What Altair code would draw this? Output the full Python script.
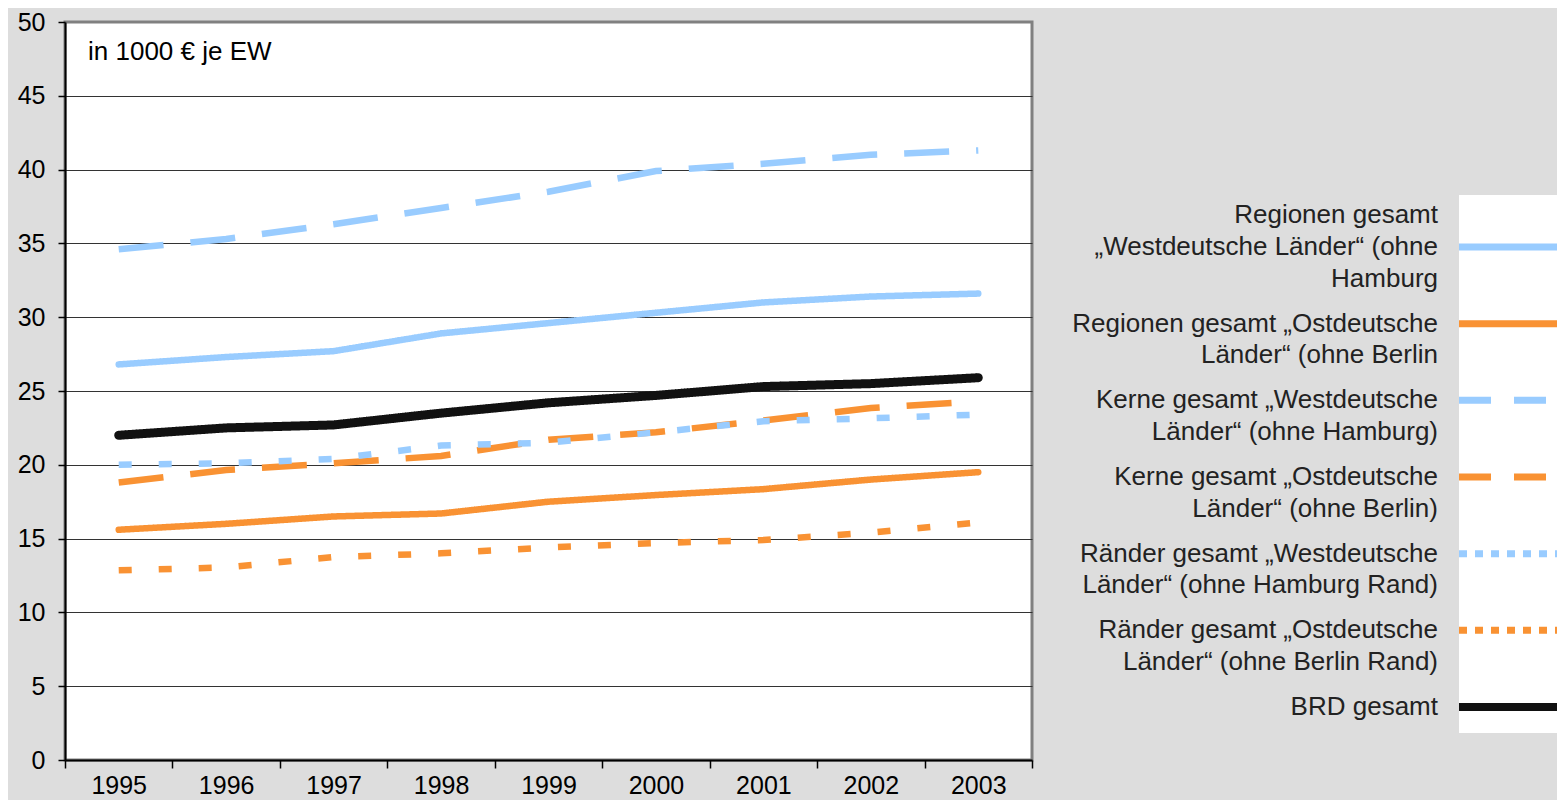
import altair as alt
import pandas as pd

FONT = "Liberation Sans"

years = ["1995", "1996", "1997", "1998", "1999", "2000", "2001", "2002", "2003"]

series_keys = ["reg_west", "reg_ost", "kern_west", "kern_ost", "rand_west", "rand_ost", "brd"]
series_labels = [
    "Regionen gesamt\n\u201eWestdeutsche L\u00e4nder\u201c (ohne\nHamburg",
    "Regionen gesamt \u201eOstdeutsche\nL\u00e4nder\u201c (ohne Berlin",
    "Kerne gesamt \u201eWestdeutsche\nL\u00e4nder\u201c (ohne Hamburg)",
    "Kerne gesamt \u201eOstdeutsche\nL\u00e4nder\u201c (ohne Berlin)",
    "R\u00e4nder gesamt \u201eWestdeutsche\nL\u00e4nder\u201c (ohne Hamburg Rand)",
    "R\u00e4nder gesamt \u201eOstdeutsche\nL\u00e4nder\u201c (ohne Berlin Rand)",
    "BRD gesamt",
]

reg_west = [26.8, 27.3, 27.7, 28.9, 29.6, 30.3, 31.0, 31.4, 31.6]
reg_ost = [15.6, 16.0, 16.5, 16.7, 17.5, 17.95, 18.35, 19.0, 19.5]
kern_west = [34.6, 35.3, 36.3, 37.4, 38.5, 39.9, 40.4, 41.0, 41.3]
kern_ost = [18.8, 19.65, 20.1, 20.6, 21.7, 22.2, 23.0, 23.85, 24.3]
rand_west = [20.0, 20.1, 20.4, 21.3, 21.5, 22.2, 22.95, 23.15, 23.4]
rand_ost = [12.85, 13.05, 13.75, 14.0, 14.4, 14.7, 14.9, 15.4, 16.1]
brd = [22.0, 22.5, 22.7, 23.5, 24.2, 24.7, 25.3, 25.5, 25.9]

series_values = [reg_west, reg_ost, kern_west, kern_ost, rand_west, rand_ost, brd]

BLUE = "#99CCFF"
ORANGE = "#F99233"
BLACK = "#111111"
colors = [BLUE, ORANGE, BLUE, ORANGE, BLUE, ORANGE, BLACK]
chart_dashes = [[1, 0], [1, 0], [45, 27], [45, 27], [13, 27], [13, 27], [1, 0]]
legend_dashes = [[1, 0], [1, 0], [32, 23], [32, 23], [8, 8], [8, 8], [1, 0]]

rows = []
for key, vals in zip(series_keys, series_values):
    for yr, v in zip(years, vals):
        rows.append({"series": key, "year": yr, "value": v})
df = pd.DataFrame(rows)

df_leg = pd.DataFrame({"series": series_keys, "label": series_labels})

color_scale = alt.Scale(domain=series_keys, range=colors)

x_enc = alt.X(
    "year:O",
    bandPosition=0.5,
    scale=alt.Scale(type="band", domain=years, paddingInner=0, paddingOuter=0),
    axis=alt.Axis(
        title=None, labelAngle=0, tickBand="extent", labelFont=FONT, labelFontSize=25,
        labelColor="black", labelPadding=5, tickSize=8, tickColor="black", tickWidth=1.5,
        domainColor="black", domainWidth=2, grid=False,
    ),
)
y_enc = alt.Y(
    "value:Q",
    scale=alt.Scale(domain=[0, 50], nice=False),
    axis=alt.Axis(
        title=None, values=list(range(0, 51, 5)), labelFont=FONT, labelFontSize=25,
        labelColor="black", labelPadding=13, tickSize=7, tickColor="black", tickWidth=1.5,
        domainColor="black", domainWidth=2, grid=True, gridColor="#333333", gridWidth=1,
        gridOpacity={"condition": {"test": "datum.value == 50 || datum.value == 0", "value": 0}, "value": 1},
    ),
)
dash_enc = alt.StrokeDash("series:N", scale=alt.Scale(domain=series_keys, range=chart_dashes), legend=None)
color_enc = alt.Color("series:N", scale=color_scale, legend=None)

base = alt.Chart(df)
solid_colored = base.transform_filter(
    alt.FieldOneOfPredicate(field="series", oneOf=["reg_west", "reg_ost"])
).mark_line(strokeWidth=6.5, strokeCap="round", strokeJoin="round").encode(
    x=x_enc, y=y_enc, color=color_enc, strokeDash=dash_enc
)
dashed = base.transform_filter(
    alt.FieldOneOfPredicate(field="series", oneOf=["kern_west", "kern_ost", "rand_west", "rand_ost"])
).mark_line(strokeWidth=6.5, strokeCap="butt").encode(
    x=x_enc, y=y_enc, color=color_enc, strokeDash=dash_enc
)
black_line = base.transform_filter(
    alt.FieldEqualPredicate(field="series", equal="brd")
).mark_line(strokeWidth=9, strokeCap="round", strokeJoin="round").encode(
    x=x_enc, y=y_enc, color=color_enc, strokeDash=dash_enc
)

annot = alt.Chart(pd.DataFrame({"t": ["in 1000 \u20ac je EW"]})).mark_text(
    align="left", baseline="middle", font=FONT, fontSize=26, color="black"
).encode(x=alt.value(23), y=alt.value(30), text="t:N")

main = alt.layer(solid_colored, dashed, black_line, annot)

# legend
leg_y = alt.Y("series:N", scale=alt.Scale(type="point", domain=series_keys, range=[225, 685], padding=0), axis=None)
leg_dash = alt.StrokeDash("series:N", scale=alt.Scale(domain=series_keys, range=legend_dashes), legend=None)

leg_box = alt.Chart(pd.DataFrame({"a": [0]})).mark_rect(fill="white").encode(
    x=alt.value(1394), x2=alt.value(1520), y=alt.value(173), y2=alt.value(711)
)
leg_base = alt.Chart(df_leg)
leg_rules = leg_base.transform_filter(
    alt.FieldOneOfPredicate(field="series", oneOf=series_keys[:-1])
).mark_rule(strokeWidth=7, strokeCap="butt").encode(
    x=alt.value(1394), x2=alt.value(1520), y=leg_y, color=color_enc, strokeDash=leg_dash
)
leg_rule_brd = leg_base.transform_filter(
    alt.FieldEqualPredicate(field="series", equal="brd")
).mark_rule(strokeWidth=8, strokeCap="butt").encode(
    x=alt.value(1394), x2=alt.value(1520), y=leg_y, color=color_enc, strokeDash=leg_dash
)
# first entry has three lines centred on its sample line
leg_text_first = leg_base.transform_filter(
    alt.FieldEqualPredicate(field="series", equal="reg_west")
).mark_text(
    align="right", baseline="middle", dy=-31.7, font=FONT, fontSize=26, lineHeight=31.7,
    lineBreak="\n", color="#222222"
).encode(x=alt.value(1373), y=leg_y, text="label:N")
# other entries start on the level of their sample line
leg_text_rest = leg_base.transform_filter(
    alt.FieldOneOfPredicate(field="series", oneOf=series_keys[1:])
).mark_text(
    align="right", baseline="middle", font=FONT, fontSize=26, lineHeight=31.7,
    lineBreak="\n", color="#222222"
).encode(x=alt.value(1373), y=leg_y, text="label:N")

legend = alt.layer(leg_box, leg_rules, leg_rule_brd, leg_text_first, leg_text_rest)

chart = alt.layer(main, legend).resolve_scale(
    y="independent", strokeDash="independent"
).properties(
    width=967,
    height=738,
    autosize=alt.AutoSizeParams(type="none"),
    padding={"left": 57, "top": 14, "right": 525, "bottom": 40},
    background="#DDDDDD",
).configure_view(fill="white", stroke="#808080", strokeWidth=3)

chart.save("out.html", embed_options={"renderer": "svg", "actions": False})
